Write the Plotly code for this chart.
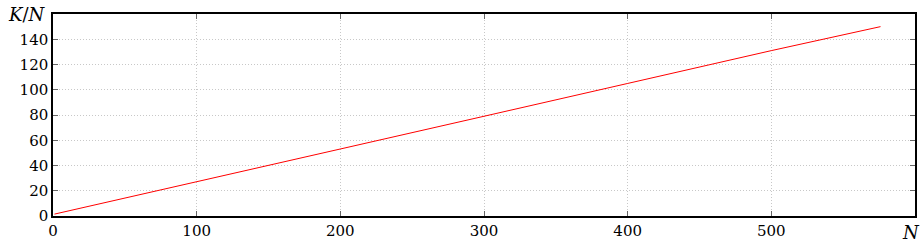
import plotly.graph_objects as go

# Data
n_values = [1, 100, 200, 300, 400, 500, 576]
k_over_n = [1.5, 27, 53, 79, 105, 131, 150]

x_ticks = [0, 100, 200, 300, 400, 500]
y_ticks = [0, 20, 40, 60, 80, 100, 120, 140]

font_family = "DejaVu Serif"

fig = go.Figure()
fig.add_trace(go.Scatter(x=n_values, y=k_over_n, mode="lines",
                         line=dict(color="#ff0000", width=1), showlegend=False,
                         hoverinfo="skip"))

axis_common = dict(
    showline=True, linecolor="black", linewidth=1.5, mirror="ticks",
    ticks="inside", ticklen=5, tickcolor="#666666", tickwidth=1,
    showgrid=True, gridcolor="#c8c8c8", griddash="1px,2px", gridwidth=1,
    zeroline=False, automargin=False,
    tickfont=dict(family=font_family, size=15, color="black"),
)

fig.update_xaxes(range=[0, 600], tickvals=x_ticks, **axis_common)
fig.update_yaxes(range=[0, 160], tickvals=y_ticks, **axis_common)

fig.add_annotation(text="<i>K</i>/<i>N</i>", xref="paper", yref="paper",
                   x=-0.006, y=1.0, xanchor="right", yanchor="middle",
                   showarrow=False, font=dict(family=font_family, size=18, color="black"))
fig.add_annotation(text="<i>N</i>", xref="paper", yref="paper",
                   x=1.008, y=-0.08, xanchor="right", yanchor="middle",
                   showarrow=False, font=dict(family=font_family, size=18, color="black"))

fig.update_layout(
    template="none",
    width=921, height=244,
    margin=dict(l=53, r=6, t=14, b=28, pad=0),
    plot_bgcolor="white", paper_bgcolor="white",
    font=dict(family=font_family),
)

fig.write_html("out.html", config={"displayModeBar": False},
               post_script="document.body.style.margin='0';document.body.style.padding='0';")
